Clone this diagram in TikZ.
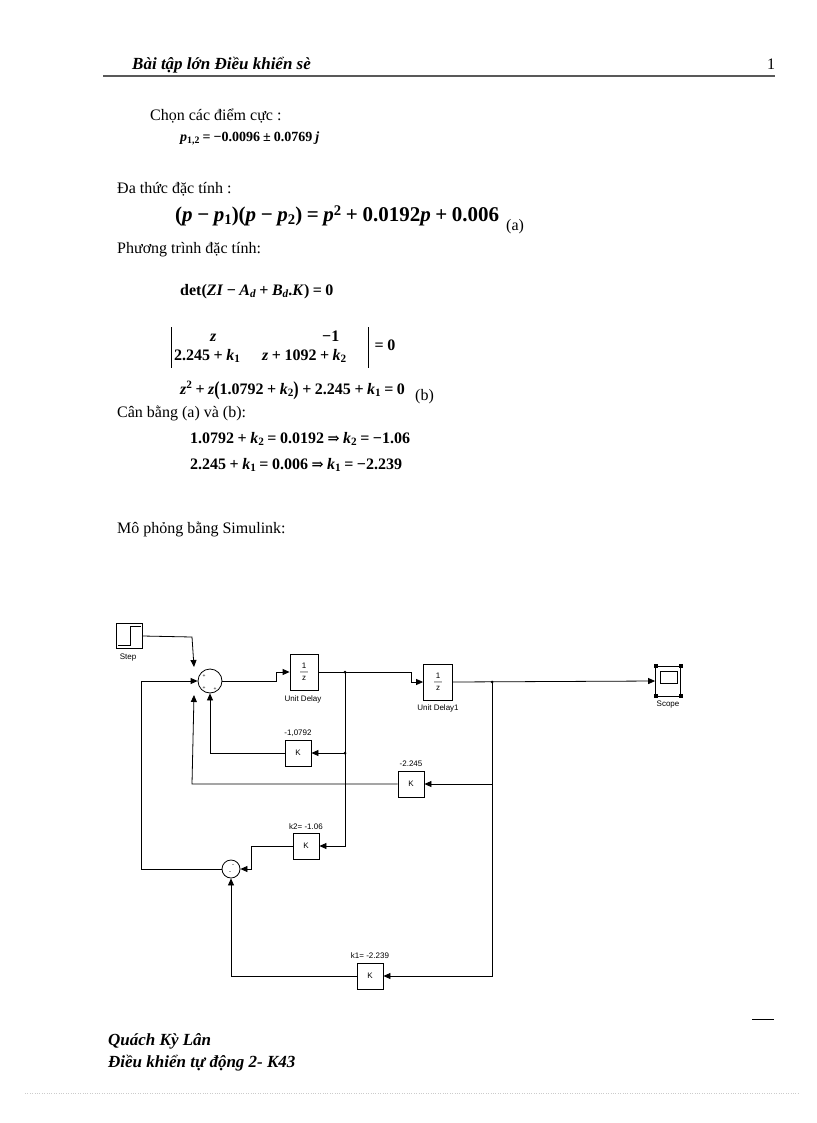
\documentclass[tikz,border=0pt]{standalone}
\usepackage{fontspec}
\setmainfont{Liberation Serif}
\setsansfont{Liberation Sans}
\newfontfamily\dvfont{DejaVu Serif}
\usetikzlibrary{arrows.meta}
\newcommand{\vi}[1]{\textit{#1}}
\newcommand{\sbs}[1]{\raisebox{-0.3ex}{\scalebox{0.7}{#1}}}
\newcommand{\sps}[1]{\raisebox{0.7ex}{\scalebox{0.7}{#1}}}
\newcommand{\opsp}{\hspace{0.22em}}
\newcommand{\mn}{\opsp−\opsp}
\newcommand{\pl}{\opsp+\opsp}
\newcommand{\eqs}{\opsp=\opsp}
\newcommand{\impl}{\opsp{\dvfont\scalebox{0.9}{⇒}}\opsp}
\newcommand{\bpl}{\raisebox{-0.15ex}{\scalebox{1}[1.25]{(}}}
\newcommand{\bpr}{\raisebox{-0.15ex}{\scalebox{1}[1.25]{)}}}
\begin{document}
\begin{tikzpicture}[x=1pt,y=-1pt,
  txt/.style={anchor=base west,inner sep=0pt,font=\fontsize{16}{18}\selectfont},
  hd/.style={anchor=base west,inner sep=0pt,font=\fontsize{17}{19}\selectfont\bfseries\itshape},
  eq/.style={anchor=base west,inner sep=0pt,font=\fontsize{16}{18}\selectfont\bfseries},
  blk/.style={draw,thick,fill=white,minimum width=26pt,minimum height=26pt,inner sep=0pt,font=\sffamily\fontsize{8}{9}\selectfont},
  lbl/.style={inner sep=0pt,font=\sffamily\fontsize{8}{9}\selectfont},
  sig/.style={thick},
  arr/.style={thick,-{Triangle[length=7pt,width=6pt]}}]
\useasboundingbox (0,0) rectangle (816,1123);
% header
\node[hd] (h1) at (132,70) {Bài tập lớn Điều khiển sè};
\node[txt] (pg) at (767,70) {1};
\draw[line width=1.5pt,gray!70!black] (103,76) -- (775,76);
% text
\node[txt] (t1) at (150,121) {Chọn các điểm cực :};
\node[eq,font=\fontsize{14}{16}\selectfont\bfseries] (e1) at (180,142) {\vi{p}\sbs{1,2}\eqs−0.0096\opsp±\opsp0.0769\opsp\vi{j}};
\node[txt] (t2) at (117,194) {Đa thức đặc tính :};
\node[eq,font=\fontsize{21}{23}\selectfont\bfseries] (e2) at (175,222) {(\vi{p}\mn\vi{p}\sbs{1})(\vi{p}\mn\vi{p}\sbs{2})\eqs\vi{p}\sps{2}\pl0.0192\vi{p}\pl0.006};
\node[txt] (a) at (506,231) {(a)};
\node[txt] (t3) at (117,253) {Phương trình đặc tính:};
\node[eq] (e3) at (180,295) {det(\vi{ZI}\mn\vi{A}\sbs{\vi{d}}\pl\vi{B}\sbs{\vi{d}}.\vi{K})\eqs0};
\node[eq] (m1) at (210,341) {\vi{z}};
\node[eq] (m2) at (322,341) {−1};
\node[eq] (m3) at (174,360) {2.245\pl\vi{k}\sbs{1}};
\node[eq] (m3b) at (262,360) {\vi{z}\pl1092\pl\vi{k}\sbs{2}};
\draw[thick] (171,327) -- (171,368);
\draw[thick] (368,327) -- (368,368);
\node[eq] (m4) at (371,350) {\eqs0};
\node[eq] (e4) at (180,394) {\vi{z}\sps{2}\pl\vi{z}\bpl1.0792\pl\vi{k}\sbs{2}\bpr\pl2.245\pl\vi{k}\sbs{1}\eqs0};
\node[txt] (b) at (415,400) {(b)};
\node[txt] (t4) at (117,417) {Cân bằng (a) và (b):};
\node[eq] (e5) at (190,443) {1.0792\pl\vi{k}\sbs{2}\eqs0.0192\impl\vi{k}\sbs{2}\eqs−1.06};
\node[eq] (e6) at (190,469) {2.245\pl\vi{k}\sbs{1}\eqs0.006\impl\vi{k}\sbs{1}\eqs−2.239};
\node[txt] (t5) at (117,533) {Mô phỏng bằng Simulink:};
% diagram
\node[blk,minimum width=26pt,minimum height=25pt] (step) at (129,636) {};
\draw (118,645) -- (130,645) -- (130,626) -- (141,626);
\node[lbl] (stepl) at (128,658) {Step};
\node[draw,circle,thick,minimum size=24pt,inner sep=0pt] (s1) at (210,681) {};
\node[lbl,font=\sffamily\fontsize{5}{5}\selectfont] at (204,676) {+};
\node[lbl,font=\sffamily\fontsize{5}{5}\selectfont] at (204,688) {+};
\node[lbl,font=\sffamily\fontsize{5}{5}\selectfont] at (215,689) {+};
\node[blk,minimum width=28pt,minimum height=36pt,align=center,font=\sffamily\fontsize{8}{10}\selectfont] (ud) at (304,672) {1\\[-4pt]—\\[-4pt]z};
\node[lbl] (udl) at (303,699) {Unit Delay};
\node[blk,minimum width=29pt,minimum height=36pt,align=center,font=\sffamily\fontsize{8}{10}\selectfont] (ud1) at (438,682) {1\\[-4pt]—\\[-4pt]z};
\node[lbl] (ud1l) at (438,708) {Unit Delay1};
\node[blk,minimum width=25pt,minimum height=30pt] (sc) at (668,681) {};
\draw (660,671) rectangle (677,683);
\foreach \p in {(656,666),(681,666),(656,696),(681,696)} \fill \p ++(-2,-2) rectangle ++(4,4);
\node[lbl] (scl) at (668,705) {Scope};
\node[blk] (g1) at (298,753) {K};
\node[lbl] at (298,733) {-1,0792};
\node[blk] (g2) at (411,784) {K};
\node[lbl] at (411,764) {-2.245};
\node[blk] (g3) at (306,846) {K};
\node[lbl] at (306,827) {k2= -1.06};
\node[blk] (g4) at (370,976) {K};
\node[lbl] at (370,956) {k1= -2.239};
\node[draw,circle,thick,minimum size=18pt,inner sep=0pt] (s2) at (231,869) {};
\node[lbl,font=\sffamily\fontsize{6}{6}\selectfont] at (233,866) {-};
\node[lbl,font=\sffamily\fontsize{6}{6}\selectfont] at (230,873) {-};
\coordinate (j1) at (345,672);
\coordinate (j2) at (345,753);
\coordinate (j3) at (492,682);
\coordinate (j4) at (492,784);
\fill (j1) circle (1.5pt) (j2) circle (1.5pt) (j3) circle (1.5pt);
% connections
\draw[arr] (step.east) -- (192,637) -- (194,667);
\draw[arr] (s2.west) -- (141,869) -- (141,681) -- (s1.west);
\draw[arr] (g2.west) -- (192,784) -- (194,695);
\draw[arr] (g1.west) -- (210,753) -- (s1.south);
\draw[arr] (s1.east) -- (276,681) -- (276,672) -- (ud.west);
\draw[sig] (ud.east) -- (j1);
\draw[arr] (j1) -- (411,672) -- (411,682) -- (ud1.west);
\draw[arr] (j2) -- (g1.east);
\draw[arr] (j1) -- (345,846) -- (g3.east);
\draw[arr] (ud1.east) -- (sc.west);
\draw[arr] (j3) -- (492,976) -- (g4.east);
\draw[arr] (j4) -- (g2.east);
\draw[arr] (g3.west) -- (251,846) -- (251,869) -- (s2.east);
\draw[arr] (g4.west) -- (231,976) -- (s2.south);
% footer
\draw[thick] (752,1019) -- (774,1019);
\node[hd] (f1) at (108,1045) {Quách Kỳ Lân};
\node[hd] (f2) at (108,1067) {Điều khiển tự động 2- K43};
\draw[gray!40,dotted] (25,1093) -- (800,1093);
\end{tikzpicture}
\end{document}
